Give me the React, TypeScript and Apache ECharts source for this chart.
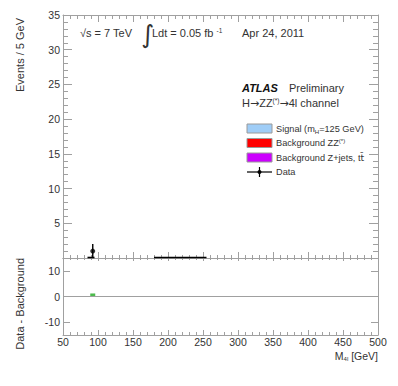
import React, { useEffect, useRef } from "react";
import * as echarts from "echarts";

// ---- data ----
const xRange = [50, 500];
const xTickStep = 50;
const topYRange = [0, 35];
const topYStep = 5;
const bottomYRange = [-15, 15];
const bottomYTicks = [-10, 0, 10];

// data point (bin centre, value, lower error, upper error)
const dataX = [92.5];
const dataY = [1];
const dataErrLo = [1];
const dataErrHi = [1];

// empty bins drawn at zero (start, end)
const zeroBinStart = [85, 180];
const zeroBinEnd = [95, 255];

// data - background
const diffX = [92.5];
const diffY = [0.6];

// legend
const legendLabels = [
  "Signal (m{sub|H}=125 GeV)",
  "Background ZZ{sup|(*)}",
  "Background Z+jets, t{tb|t\u0304}",
  "Data",
];
const legendColors = ["#9fcdf7", "#ff0000", "#cc00ff", "#000000"];

const FONT = "'Liberation Sans', Arial, sans-serif";
const AXIS_GRAY = "#a0a0a0";
const LABEL = "#333";

export default function App() {
  const ref = useRef<HTMLDivElement>(null);

  useEffect(() => {
    if (!ref.current) return;
    const chart = echarts.init(ref.current, undefined, { renderer: "svg" });

    const lineStyle = { color: AXIS_GRAY, width: 1 };
    const axisLine = { onZero: false, lineStyle };

    const errData = dataX.map((x, i) => [x, dataY[i], dataY[i] - dataErrLo[i], dataY[i] + dataErrHi[i]]);
    const zeroData = zeroBinStart.map((s, i) => [s, zeroBinEnd[i], 0]);

    const legendRowY = [128.5, 143, 157.5, 172];
    const legendGraphics: any[] = [];
    legendLabels.forEach((lab, i) => {
      const y = legendRowY[i];
      if (i < 3) {
        legendGraphics.push({
          type: "rect",
          shape: { x: 247, y: y - 4.5, width: 25, height: 9 },
          style: { fill: legendColors[i], stroke: "#9a9a9a", lineWidth: 1 },
        });
      } else {
        legendGraphics.push({
          type: "line",
          shape: { x1: 247, y1: y, x2: 272, y2: y },
          style: { stroke: "#000", lineWidth: 1.2 },
        });
        legendGraphics.push({
          type: "line",
          shape: { x1: 259.5, y1: y - 5, x2: 259.5, y2: y + 5 },
          style: { stroke: "#000", lineWidth: 1.2 },
        });
        legendGraphics.push({
          type: "circle",
          shape: { cx: 259.5, cy: y, r: 2 },
          style: { fill: "#000" },
        });
      }
      legendGraphics.push({
        type: "text",
        x: 276,
        y: y,
        style: {
          text: lab,
          fontFamily: FONT,
          fontSize: 9.2,
          fill: LABEL,
          verticalAlign: "middle",
          rich: {
            sub: { fontSize: 6, fontFamily: FONT, fill: LABEL, verticalAlign: "bottom", padding: [6, 0, 0, 0] },
            sup: { fontSize: 6, fontFamily: FONT, fill: LABEL, verticalAlign: "top", padding: [0, 0, 5, 0] },
            tb: { fontSize: 9.2, fontFamily: "DejaVu Sans", fill: LABEL },
          },
        },
      });
    });

    const supStyle = { fontSize: 6.5, fontFamily: FONT, fill: LABEL, verticalAlign: "top", padding: [0, 0, 6, 0] };
    const arStyle = { fontSize: 11, fontFamily: "'DejaVu Sans'", fill: LABEL };

    const option: any = {
      animation: false,
      backgroundColor: "#fff",
      grid: [
        { left: 63, right: 20, top: 15, height: 243, containLabel: false },
        { left: 63, right: 20, top: 258, height: 77, containLabel: false },
      ],
      xAxis: [
        {
          gridIndex: 0, type: "value", position: "bottom",
          min: xRange[0], max: xRange[1], interval: xTickStep,
          axisLine, axisTick: { inside: true, length: 6, lineStyle },
          minorTick: { show: true, splitNumber: 5, length: 3, lineStyle },
          axisLabel: { show: false }, splitLine: { show: false },
        },
        {
          gridIndex: 0, type: "value", position: "top",
          min: xRange[0], max: xRange[1], interval: xTickStep,
          axisLine, axisTick: { inside: true, length: 7, lineStyle },
          minorTick: { show: true, splitNumber: 5, length: 4, lineStyle },
          axisLabel: { show: false }, splitLine: { show: false },
        },
        {
          gridIndex: 1, type: "value", position: "bottom",
          min: xRange[0], max: xRange[1], interval: xTickStep,
          axisLine, axisTick: { inside: true, length: 5, lineStyle },
          minorTick: { show: true, splitNumber: 5, length: 3, lineStyle },
          axisLabel: { show: true, margin: 1, fontFamily: FONT, fontSize: 10.5, color: LABEL },
          splitLine: { show: false },
        },
        {
          gridIndex: 1, type: "value", position: "top",
          min: xRange[0], max: xRange[1], interval: xTickStep,
          axisLine, axisTick: { inside: true, length: 3, lineStyle },
          minorTick: { show: true, splitNumber: 5, length: 2, lineStyle },
          axisLabel: { show: false }, splitLine: { show: false },
        },
      ],
      yAxis: [
        {
          gridIndex: 0, type: "value", position: "left",
          min: topYRange[0], max: topYRange[1], interval: topYStep,
          axisLine, axisTick: { inside: true, length: 9, lineStyle },
          minorTick: { show: true, splitNumber: 5, length: 5, lineStyle },
          axisLabel: {
            margin: 3, fontFamily: FONT, fontSize: 10.5, color: LABEL,
            formatter: (v: number) => (v === 0 ? "" : String(v)),
          },
          splitLine: { show: false },
        },
        {
          gridIndex: 0, type: "value", position: "right",
          min: topYRange[0], max: topYRange[1], interval: topYStep,
          axisLine, axisTick: { inside: true, length: 9, lineStyle },
          minorTick: { show: true, splitNumber: 5, length: 5, lineStyle },
          axisLabel: { show: false }, splitLine: { show: false },
        },
        {
          gridIndex: 1, type: "value", position: "left",
          min: bottomYRange[0], max: bottomYRange[1],
          axisLine,
          axisTick: { inside: true, length: 7, lineStyle, customValues: bottomYTicks },
          axisLabel: { margin: 3, fontFamily: FONT, fontSize: 10.5, color: LABEL, customValues: bottomYTicks, hideOverlap: false },
          splitLine: { show: false },
        },
        {
          gridIndex: 1, type: "value", position: "right",
          min: bottomYRange[0], max: bottomYRange[1],
          axisLine,
          axisTick: { inside: true, length: 7, lineStyle, customValues: bottomYTicks },
          axisLabel: { show: false, customValues: bottomYTicks },
          splitLine: { show: false },
        },
      ],
      series: [
        {
          name: "zero bins",
          type: "custom",
          xAxisIndex: 0, yAxisIndex: 0,
          clip: false,
          data: zeroData,
          renderItem: (_p: any, api: any) => {
            const a = api.coord([api.value(0), api.value(2)]);
            const b = api.coord([api.value(1), api.value(2)]);
            return {
              type: "line",
              shape: { x1: a[0], y1: a[1] - 0.5, x2: b[0], y2: b[1] - 0.5 },
              style: { stroke: "#000", lineWidth: 1.6 },
            };
          },
        },
        {
          name: "Data errors",
          type: "custom",
          xAxisIndex: 0, yAxisIndex: 0,
          clip: false,
          data: errData,
          renderItem: (_p: any, api: any) => {
            const a = api.coord([api.value(0), api.value(2)]);
            const b = api.coord([api.value(0), api.value(3)]);
            return {
              type: "line",
              shape: { x1: a[0], y1: a[1], x2: b[0], y2: b[1] },
              style: { stroke: "#000", lineWidth: 1.4 },
            };
          },
        },
        {
          name: "Data",
          type: "scatter",
          xAxisIndex: 0, yAxisIndex: 0,
          symbol: "circle", symbolSize: 5,
          itemStyle: { color: "#000" },
          data: dataX.map((x, i) => [x, dataY[i]]),
        },
        {
          name: "Data - Background",
          type: "scatter",
          xAxisIndex: 2, yAxisIndex: 2,
          symbol: "rect", symbolSize: [5, 3],
          itemStyle: { color: "#22aa22" },
          data: diffX.map((x, i) => [x, diffY[i]]),
          markLine: {
            silent: true, symbol: "none", label: { show: false },
            lineStyle: { color: AXIS_GRAY, type: "solid", width: 1 },
            data: [{ yAxis: 0 }],
          },
          z: 3,
        },
      ],
      graphic: [
        {
          type: "text", x: 20, y: 18, rotation: Math.PI / 2,
          style: { text: "Events / 5 GeV", fontFamily: FONT, fontSize: 11, fill: LABEL, align: "right", verticalAlign: "middle" },
        },
        {
          type: "text", x: 20, y: 258, rotation: Math.PI / 2,
          style: { text: "Data - Background", fontFamily: FONT, fontSize: 11, fill: LABEL, align: "right", verticalAlign: "middle" },
        },
        {
          type: "text", x: 378, y: 356,
          style: {
            text: "M{sub|4l} [GeV]", fontFamily: FONT, fontSize: 10.5, fill: LABEL, align: "right", verticalAlign: "middle",
            rich: { sub: { fontSize: 6, fontFamily: FONT, fill: LABEL, verticalAlign: "bottom", padding: [6, 0, 0, 0] } },
          },
        },
        {
          type: "text", x: 80, y: 33,
          style: { text: "\u221As = 7 TeV", fontFamily: FONT, fontSize: 11, fill: LABEL, verticalAlign: "middle" },
        },
        {
          type: "text", x: 141, y: 34,
          style: { text: "\u222B", fontFamily: "'DejaVu Sans'", fontSize: 25, fill: LABEL, verticalAlign: "middle" },
        },
        {
          type: "text", x: 152, y: 33,
          style: {
            text: "Ldt = 0.05 fb {sup|-1}", fontFamily: FONT, fontSize: 11, fill: LABEL, verticalAlign: "middle",
            rich: { sup: supStyle },
          },
        },
        {
          type: "text", x: 242, y: 33,
          style: { text: "Apr 24, 2011", fontFamily: FONT, fontSize: 11, fill: LABEL, verticalAlign: "middle" },
        },
        {
          type: "text", x: 242, y: 88,
          style: { text: "ATLAS", fontFamily: FONT, fontSize: 11, fontWeight: "bold", fontStyle: "italic", fill: "#111", verticalAlign: "middle" },
        },
        {
          type: "text", x: 289, y: 88,
          style: { text: "Preliminary", fontFamily: FONT, fontSize: 11, fill: LABEL, verticalAlign: "middle" },
        },
        {
          type: "text", x: 242, y: 103,
          style: {
            text: "H{ar|\u2192}ZZ{sup|(*)}{ar|\u2192}4l channel", fontFamily: FONT, fontSize: 11, fill: LABEL, verticalAlign: "middle",
            rich: { sup: supStyle, ar: arStyle },
          },
        },
        ...legendGraphics,
      ],
    };

    chart.setOption(option);
    return () => chart.dispose();
  }, []);

  return (
    <div
      ref={ref}
      style={{ position: "absolute", left: 0, top: 0, width: 398, height: 386, background: "#fff" }}
    />
  );
}
